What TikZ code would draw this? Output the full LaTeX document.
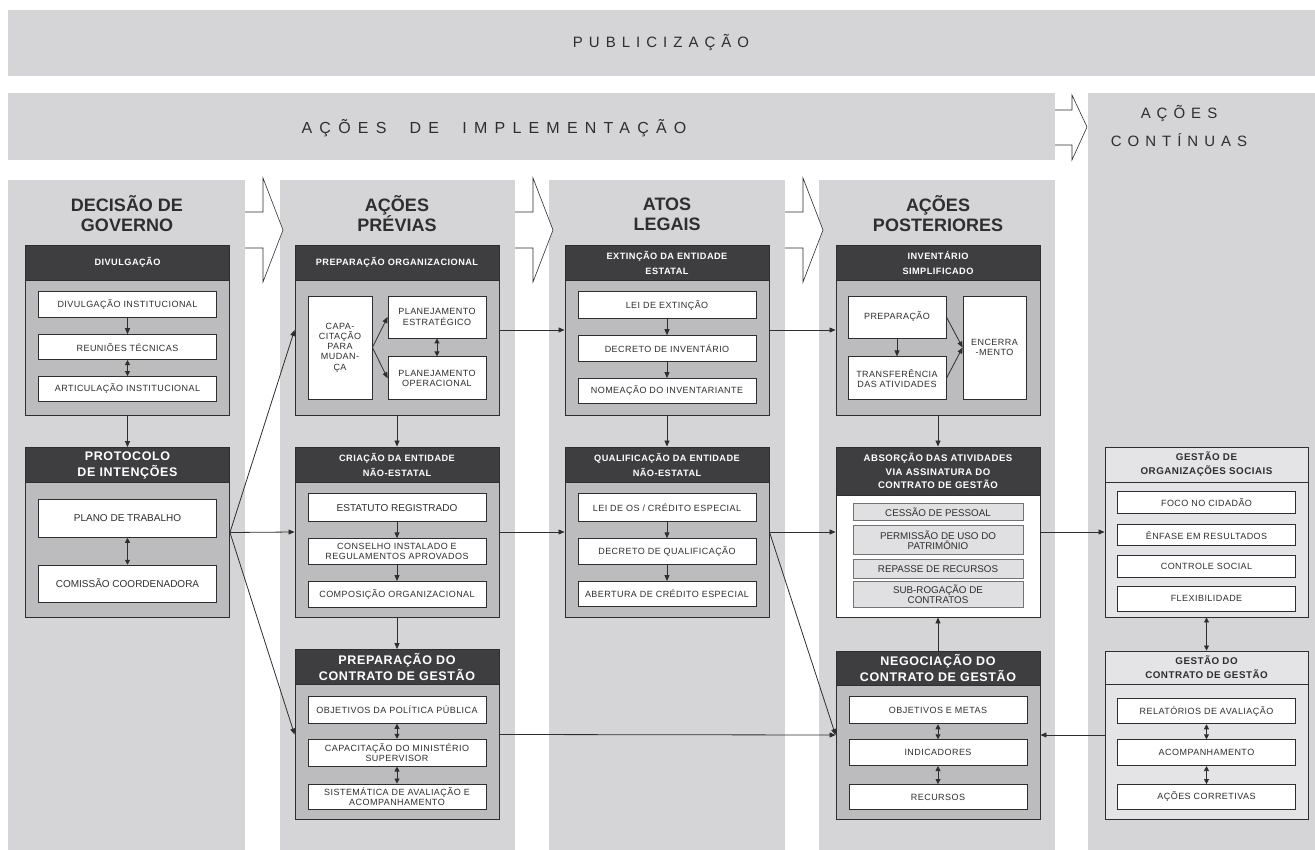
\documentclass[tikz,border=0pt]{standalone}
\usepackage{fontspec}
\setmainfont{Liberation Sans}
\usetikzlibrary{positioning,arrows.meta}
\definecolor{bandgray}{HTML}{D5D5D7}
\definecolor{boxgray}{HTML}{BCBCBE}
\definecolor{headdark}{HTML}{3E3E40}
\definecolor{palegray}{HTML}{E4E4E6}
\definecolor{cellgray}{HTML}{E0E0E2}
\definecolor{inkgray}{HTML}{2E2E2E}
\newfontfamily\trackfam[LetterSpace=5]{Liberation Sans}
\newfontfamily\widefam[LetterSpace=40]{Liberation Sans}
\newfontfamily\widerfam[LetterSpace=45]{Liberation Sans}
\newcommand{\itmfont}{\trackfam\fontsize{9}{10.2}\selectfont}
\newcommand{\hdfont}{\trackfam\bfseries\fontsize{9.2}{15}\selectfont}
\newcommand{\bighdfont}{\trackfam\bfseries\fontsize{12.5}{16}\selectfont}
\newcommand{\titfont}{\bfseries\fontsize{18}{20}\selectfont}
\newcommand{\bandfont}{\widefam\fontsize{15}{28}\selectfont}
\tikzset{
    band/.style={fill=bandgray,draw=none},
    coltitle/.style={font=\titfont,text=inkgray,align=center},
    grp/.style={draw=inkgray,fill=boxgray,line width=0.9pt,minimum width=204pt,minimum height=170pt,inner sep=0pt},
    grphead/.style={draw=inkgray,fill=headdark,line width=0.9pt,text=white,minimum width=204pt,minimum height=35pt,font=\hdfont,align=center,inner sep=1pt},
    bighead/.style={grphead,font=\bighdfont},
    palehead/.style={grphead,fill=palegray,text=inkgray,font=\trackfam\bfseries\fontsize{9.8}{14}\selectfont},
    item/.style={draw=inkgray,fill=white,line width=0.8pt,minimum width=178pt,minimum height=26pt,font=\itmfont,text=inkgray,align=center,inner sep=1pt},
    cell/.style={draw=black!55,fill=cellgray,line width=0.8pt,minimum width=170pt,font=\fontsize{9.8}{10.5}\selectfont,text=inkgray,align=center,inner sep=0.5pt},
    link/.style={draw=inkgray,line width=0.8pt,-{Triangle[length=6pt,width=5pt]}},
    dlink/.style={link,{Triangle[length=5pt,width=5pt]}-{Triangle[length=5pt,width=5pt]}},
    blockarrow/.style={draw=inkgray,fill=white,line width=0.6pt},
}
\begin{document}
\begin{tikzpicture}[x=1pt,y=-1pt]
    \useasboundingbox (0,0) rectangle (1315,850);

    % bands and columns
    \fill[band] (8,10) rectangle (1315,76);
    \fill[band] (8,93) rectangle (1055,160);
    \fill[band] (1088,93) rectangle (1315,850);
    \fill[band] (8,180) rectangle (245,850);
    \fill[band] (280,180) rectangle (515,850);
    \fill[band] (549,180) rectangle (785,850);
    \fill[band] (819,180) rectangle (1055,850);

    \node[font=\bandfont,text=inkgray] (pub) at (661,43) {PUBLICIZAÇÃO};
    \node[font=\widerfam\fontsize{16}{28}\selectfont,text=inkgray] (impl) at (494,128) {AÇÕES\ \ DE\ \ IMPLEMENTAÇÃO};
    \node[font=\bandfont,text=inkgray,align=center] (cont) at (1179,126) {AÇÕES\\CONTÍNUAS};

    % block arrows
    \draw[blockarrow] (1055,110) -- (1072,110) -- (1072,95) -- (1087,127) -- (1072,160) -- (1072,145) -- (1055,145);
    \draw[blockarrow] (245,212) -- (263,212) -- (263,178) -- (283,230) -- (263,282) -- (263,248) -- (245,248);
    \draw[blockarrow] (515,212) -- (533,212) -- (533,178) -- (553,230) -- (533,282) -- (533,248) -- (515,248);
    \draw[blockarrow] (785,212) -- (803,212) -- (803,178) -- (823,230) -- (803,282) -- (803,248) -- (785,248);

    \node[coltitle] (t1) at (127,214) {DECISÃO DE\\GOVERNO};
    \node[coltitle] (t2) at (397,214) {AÇÕES\\PRÉVIAS};
    \node[coltitle] (t3) at (667,214) {ATOS\\LEGAIS};
    \node[coltitle] (t4) at (938,214) {AÇÕES\\POSTERIORES};

    % decisao de governo
    \node[grp] (divul) at (127.5,330) {};
    \node[grphead,below=0pt of divul.north] (divulH) {DIVULGAÇÃO};
    \node[item,below=11pt of divulH] (divInst) {DIVULGAÇÃO INSTITUCIONAL};
    \node[item,below=16pt of divInst,minimum height=25pt] (reun) {REUNIÕES TÉCNICAS};
    \node[item,below=16pt of reun,minimum height=25pt] (artic) {ARTICULAÇÃO INSTITUCIONAL};

    \node[grp] (proto) at (127.5,532.5) {};
    \node[bighead,below=0pt of proto.north] (protoH) {PROTOCOLO\\DE INTENÇÕES};
    \node[item,below=16pt of protoH,minimum height=38pt,font=\fontsize{10}{11}\selectfont] (plano) {PLANO DE TRABALHO};
    \node[item,below=27pt of plano,minimum height=37pt,font=\fontsize{10}{11}\selectfont] (comis) {COMISSÃO COORDENADORA};

    % acoes previas
    \node[grp] (prepOrg) at (397,330) {};
    \node[grphead,below=0pt of prepOrg.north] (prepOrgH) {PREPARAÇÃO ORGANIZACIONAL};
    \node[item,minimum width=64pt,minimum height=103pt] (capac) at (340,347.5) {CAPA-\\CITAÇÃO\\PARA\\MUDAN-\\ÇA};
    \node[item,minimum width=98pt,minimum height=42pt] (estrat) at (437,317) {PLANEJAMENTO\\ESTRATÉGICO};
    \node[item,below=18pt of estrat,minimum width=98pt,minimum height=43pt] (operac) {PLANEJAMENTO\\OPERACIONAL};

    \node[grp] (criacao) at (397,532) {};
    \node[grphead,below=0pt of criacao.north] (criacaoH) {CRIAÇÃO DA ENTIDADE\\NÃO-ESTATAL};
    \node[item,below=11pt of criacaoH,minimum height=28pt,font=\fontsize{10}{11}\selectfont] (estat) {ESTATUTO REGISTRADO};
    \node[item,below=16pt of estat] (consel) {CONSELHO INSTALADO E\\REGULAMENTOS APROVADOS};
    \node[item,below=16pt of consel] (compos) {COMPOSIÇÃO ORGANIZACIONAL};

    \node[grp] (prepCont) at (397,734.5) {};
    \node[bighead,below=0pt of prepCont.north] (prepContH) {PREPARAÇÃO DO\\CONTRATO DE GESTÃO};
    \node[item,below=11pt of prepContH,minimum height=27pt] (objPol) {OBJETIVOS DA POLÍTICA PÚBLICA};
    \node[item,below=15pt of objPol,minimum height=27pt] (capMin) {CAPACITAÇÃO DO MINISTÉRIO\\SUPERVISOR};
    \node[item,below=17pt of capMin,minimum height=25pt] (sistem) {SISTEMÁTICA DE AVALIAÇÃO E\\ACOMPANHAMENTO};

    % atos legais
    \node[grp] (extinc) at (667,330) {};
    \node[grphead,below=0pt of extinc.north] (extincH) {EXTINÇÃO DA ENTIDADE\\ESTATAL};
    \node[item,below=11pt of extincH,minimum height=27pt] (leiExt) {LEI DE EXTINÇÃO};
    \node[item,below=16pt of leiExt] (decInv) {DECRETO DE INVENTÁRIO};
    \node[item,below=16pt of decInv,minimum height=25pt] (nomea) {NOMEAÇÃO DO INVENTARIANTE};

    \node[grp] (qualif) at (667,532) {};
    \node[grphead,below=0pt of qualif.north] (qualifH) {QUALIFICAÇÃO DA ENTIDADE\\NÃO-ESTATAL};
    \node[item,below=11pt of qualifH,minimum height=28pt] (leiOS) {LEI DE OS / CRÉDITO ESPECIAL};
    \node[item,below=16pt of leiOS] (decQual) {DECRETO DE QUALIFICAÇÃO};
    \node[item,below=16pt of decQual,minimum height=25pt] (abert) {ABERTURA DE CRÉDITO ESPECIAL};

    % acoes posteriores
    \node[grp] (invent) at (938,330) {};
    \node[grphead,below=0pt of invent.north] (inventH) {INVENTÁRIO\\SIMPLIFICADO};
    \node[item,minimum width=98pt,minimum height=42pt] (prepInv) at (897,317) {PREPARAÇÃO};
    \node[item,below=18pt of prepInv,minimum width=98pt,minimum height=43pt] (transf) {TRANSFERÊNCIA\\DAS ATIVIDADES};
    \node[item,minimum width=63pt,minimum height=103pt] (encerr) at (994.5,347.5) {ENCERRA\\-MENTO};

    \node[grp,fill=white] (absorc) at (938,532) {};
    \node[grphead,below=0pt of absorc.north,minimum height=48pt,font=\trackfam\bfseries\fontsize{9.6}{13.5}\selectfont] (absorcH) {ABSORÇÃO DAS ATIVIDADES\\VIA ASSINATURA DO\\CONTRATO DE GESTÃO};
    \node[cell,below=8pt of absorcH,minimum height=17pt] (cessao) {CESSÃO DE PESSOAL};
    \node[cell,below=4pt of cessao,minimum height=29pt] (permis) {PERMISSÃO DE USO DO\\PATRIMÔNIO};
    \node[cell,below=4pt of permis,minimum height=19pt] (repas) {REPASSE DE RECURSOS};
    \node[cell,below=2pt of repas,minimum height=26pt] (subrog) {SUB-ROGAÇÃO DE\\CONTRATOS};

    \node[grp,minimum height=168pt] (negoc) at (938,735) {};
    \node[bighead,below=0pt of negoc.north,minimum height=34pt] (negocH) {NEGOCIAÇÃO DO\\CONTRATO DE GESTÃO};
    \node[item,below=11pt of negocH,minimum height=27pt] (objMet) {OBJETIVOS E METAS};
    \node[item,below=15pt of objMet] (indic) {INDICADORES};
    \node[item,below=18pt of indic,minimum height=25pt] (recur) {RECURSOS};

    % acoes continuas
    \node[grp,fill=palegray,minimum width=203pt] (gestOS) at (1206.5,532) {};
    \node[palehead,below=0pt of gestOS.north,minimum width=203pt] (gestOSH) {GESTÃO DE\\ORGANIZAÇÕES SOCIAIS};
    \node[item,below=9pt of gestOSH,minimum height=22pt] (foco) {FOCO NO CIDADÃO};
    \node[item,below=10pt of foco,minimum height=21pt] (enfase) {ÊNFASE EM RESULTADOS};
    \node[item,below=9pt of enfase,minimum height=22pt] (ctrl) {CONTROLE SOCIAL};
    \node[item,below=8pt of ctrl,minimum height=25pt] (flex) {FLEXIBILIDADE};

    \node[grp,fill=palegray,minimum width=203pt,minimum height=168pt] (gestCont) at (1206.5,735) {};
    \node[palehead,below=0pt of gestCont.north,minimum width=203pt,minimum height=33pt] (gestContH) {GESTÃO DO\\CONTRATO DE GESTÃO};
    \node[item,below=14pt of gestContH,minimum height=25pt] (relat) {RELATÓRIOS DE AVALIAÇÃO};
    \node[item,below=15pt of relat] (acomp) {ACOMPANHAMENTO};
    \node[item,below=18pt of acomp,minimum height=25pt] (acoes) {AÇÕES CORRETIVAS};

    % inner links
    \draw[link] (divInst) -- (reun);
    \draw[dlink] (reun) -- (artic);
    \draw[dlink] (plano) -- (comis);
    \draw[link] (capac.east) -- (estrat.west);
    \draw[link] (capac.east) -- (operac.west);
    \draw[dlink] (estrat) -- (operac);
    \draw[link] (estat) -- (consel);
    \draw[link] (consel) -- (compos);
    \draw[dlink] (objPol) -- (capMin);
    \draw[dlink] (capMin) -- (sistem);
    \draw[link] (leiExt) -- (decInv);
    \draw[link] (decInv) -- (nomea);
    \draw[link] (leiOS) -- (decQual);
    \draw[link] (decQual) -- (abert);
    \draw[link] (prepInv) -- (transf);
    \draw[link] (prepInv.east) -- (encerr.west);
    \draw[link] (transf.east) -- (encerr.west);
    \draw[dlink] (objMet) -- (indic);
    \draw[dlink] (indic) -- (recur);
    \draw[dlink] (relat) -- (acomp);
    \draw[dlink] (acomp) -- (acoes);

    % links between groups
    \draw[link] (divul) -- (proto);
    \draw[link] (proto.east) -- (prepOrg.west);
    \draw[link] (proto.east) -- (criacao.west);
    \draw[link] (proto.east) -- (prepCont.west);
    \draw[link] (prepOrg) -- (criacao);
    \draw[link] (criacao) -- (prepCont);
    \draw[link] (prepOrg.east) -- (extinc.west);
    \draw[link] (criacao.east) -- (qualif.west);
    \draw[link] (prepCont.east) -- (negoc.west);
    \draw[link] (extinc) -- (qualif);
    \draw[link] (extinc.east) -- (invent.west);
    \draw[link] (qualif.east) -- (absorc.west);
    \draw[link] (qualif.east) -- (negoc.west);
    \draw[link] (invent) -- (absorc);
    \draw[link] (negoc) -- (absorc);
    \draw[link] (absorc.east) -- (gestOS.west);
    \draw[dlink] (gestOS) -- (gestCont);
    \draw[link] (gestCont.west) -- (negoc.east);
\end{tikzpicture}
\end{document}
